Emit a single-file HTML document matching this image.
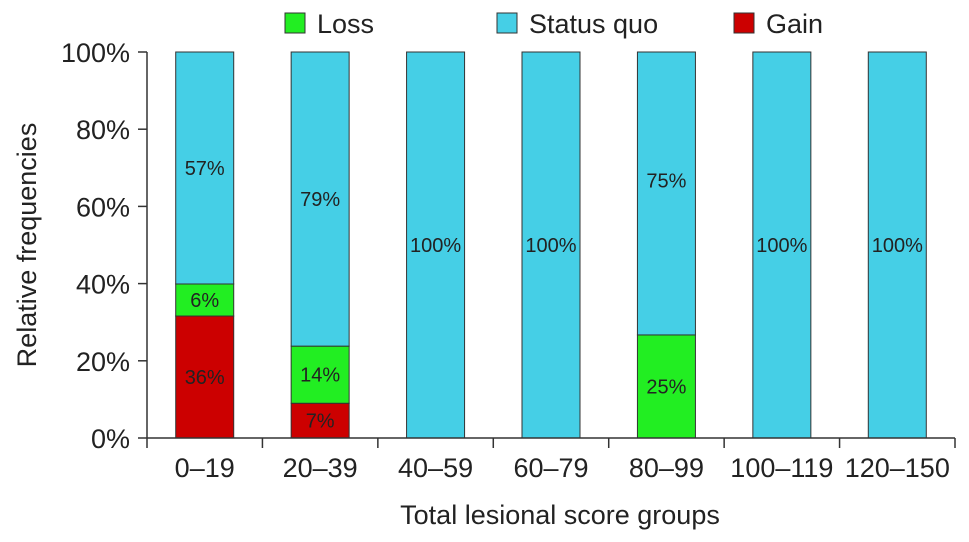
<!DOCTYPE html>
<html><head><meta charset="utf-8"><style>
html,body{margin:0;padding:0;background:#fff;}
svg{display:block;font-family:"Liberation Sans",Arial,sans-serif;}
</style></head><body>
<svg id="chart" width="969" height="542" viewBox="0 0 969 542"></svg>
<script>
const categories=["0–19","20–39","40–59","60–79","80–99","100–119","120–150"];
const gainValues=[31.6,9,0,0,0,0,0];
const lossValues=[8.3,14.8,0,0,26.7,0,0];
const statusValues=[60.1,76.2,100,100,73.3,100,100];
const gainLabels=["36%","7%","","","","",""];
const lossLabels=["6%","14%","","","25%","",""];
const statusLabels=["57%","79%","100%","100%","75%","100%","100%"];
const yTicks=[0,20,40,60,80,100];

const NS="http://www.w3.org/2000/svg";
const svg=document.getElementById('chart');
const x0=147,x1=955,y0=438,y1=52;
const bandW=(x1-x0)/categories.length, barW=58;
const y=v=>y0-(v/100)*(y0-y1);
const xc=i=>x0+bandW*(i+0.5);
function mk(tag,attrs,text){const e=document.createElementNS(NS,tag);for(const k in attrs)e.setAttribute(k,attrs[k]);if(text!==undefined)e.textContent=text;svg.appendChild(e);return e;}

const series=[
 {vals:gainValues,labels:gainLabels,color:"#cc0000",name:"gain"},
 {vals:lossValues,labels:lossLabels,color:"#22ee22",name:"loss"},
 {vals:statusValues,labels:statusLabels,color:"#45cfe6",name:"status-quo"}];
categories.forEach((c,i)=>{
 let base=0;
 series.forEach(s=>{
  const v=s.vals[i]; if(v<=0)return;
  const r=mk('rect',{x:xc(i)-barW/2,y:y(base+v),width:barW,height:y(base)-y(base+v),fill:s.color,stroke:"#333","stroke-width":1});
  
  
  if(s.labels[i]){
   let ly=(y(base)+y(base+v))/2+7;
   if(s.name==="status-quo"&&i===4) ly-=13;
   const t=mk('text',{x:xc(i),y:ly,"text-anchor":"middle","font-size":20,fill:"#222"},s.labels[i]);
   
   
  }
  base+=v;
 });
});
const ya=mk('line',{x1:x0,y1:y1,x2:x0,y2:y0,stroke:"#333","stroke-width":1.5});

const xa=mk('line',{x1:x0,y1:y0,x2:x1,y2:y0,stroke:"#333","stroke-width":1.5});

yTicks.forEach(v=>{
 mk('line',{x1:x0-9,y1:y(v),x2:x0,y2:y(v),stroke:"#333","stroke-width":1.5});
 const t=mk('text',{x:x0-17,y:y(v)+10,"text-anchor":"end","font-size":27,fill:"#222"},v+"%");
 
});
for(let i=0;i<=categories.length;i++){
 mk('line',{x1:x0+bandW*i,y1:y0,x2:x0+bandW*i,y2:y0+10,stroke:"#333","stroke-width":1.5});
}
categories.forEach((c,i)=>{
 const t=mk('text',{x:xc(i),y:477,"text-anchor":"middle","font-size":27,fill:"#222"},c);
 
});
const xt=mk('text',{x:560,y:524,"text-anchor":"middle","font-size":27,fill:"#222"},"Total lesional score groups");

const yt=mk('text',{x:0,y:0,"text-anchor":"middle","font-size":27,fill:"#222",transform:"translate(36,245) rotate(-90)"},"Relative frequencies");

[["Loss","#22ee22",285],["Status quo","#45cfe6",497],["Gain","#cc0000",734]].forEach(l=>{
 const r=mk('rect',{x:l[2],y:13,width:20,height:20,fill:l[1],stroke:"#333","stroke-width":1});
 
 const t=mk('text',{x:l[2]+32,y:33,"font-size":27,fill:"#222"},l[0]);
 
});
</script>
</body></html>
